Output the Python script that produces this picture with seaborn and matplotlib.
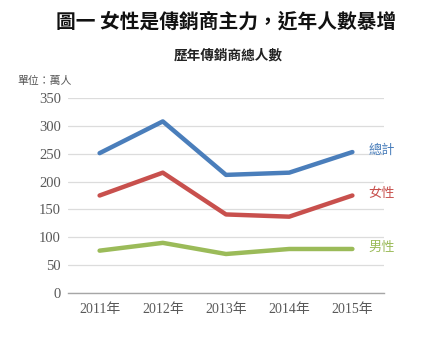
import matplotlib
matplotlib.use("Agg")
import matplotlib.pyplot as plt
import seaborn as sns
import pandas as pd

years = ["2011年", "2012年", "2013年", "2014年", "2015年"]
series_names = ["總計", "女性", "男性"]
total = [251, 308, 212, 216, 253]
female = [175, 216, 141, 137, 175]
male = [76, 90, 70, 79, 79]
colors = ["#4a7ebb", "#c8504d", "#9bbb59"]

df = pd.DataFrame({
    "year": years * 3,
    "value": total + female + male,
    "series": [s for s in series_names for _ in years],
})

sns.set_theme(style="white")
plt.rcParams["font.family"] = ["Noto Sans CJK TC", "DejaVu Sans"]

fig = plt.figure(figsize=(4.41, 3.40), dpi=100)
ax = fig.add_axes([68 / 441, 1 - 293 / 340, (384 - 68) / 441, (293 - 98) / 340])

sns.lineplot(data=df, x="year", y="value", hue="series", palette=colors,
             linewidth=3.2, legend=False, ax=ax, sort=False)
for line in ax.lines:
    line.set_solid_capstyle("round")

ax.set_xlim(-0.5, 4.5)
ax.set_ylim(0, 350)
ax.set_yticks(range(0, 351, 50))
ax.set_xlabel("")
ax.set_ylabel("")
ax.grid(axis="y", color="#dcdcdc", linewidth=0.9)
ax.set_axisbelow(True)
for side in ["top", "right", "left"]:
    ax.spines[side].set_visible(False)
ax.spines["bottom"].set_color("#a6a6a6")
ax.spines["bottom"].set_linewidth(1.0)
ax.tick_params(axis="both", length=0, colors="#595959")
ax.tick_params(axis="y", pad=5)
ax.tick_params(axis="x", pad=7)
for lab in ax.get_yticklabels():
    lab.set_fontfamily(["Liberation Serif", "DejaVu Sans"])
    lab.set_fontsize(10.5)
for lab in ax.get_xticklabels():
    lab.set_fontfamily(["Liberation Serif", "Noto Sans CJK TC"])
    lab.set_fontsize(10)

# series labels at the right end of each line
for name, vals, c in zip(series_names, [total, female, male], colors):
    ax.text(4.25, vals[-1] + 3, name, color=c, fontsize=9.5, va="center",
            ha="left", clip_on=False)

fig.text(226 / 441, 1 - 22 / 340, "圖一 女性是傳銷商主力，近年人數暴增",
         ha="center", va="center", fontsize=14.2, fontweight="bold", color="#111111")
fig.text(228 / 441, 1 - 56 / 340, "歷年傳銷商總人數",
         ha="center", va="center", fontsize=9.8, fontweight="bold", color="#222222")
fig.text(17 / 441, 1 - 81 / 340, "單位：萬人",
         ha="left", va="center", fontsize=7.8, color="#555555")

fig.savefig("out.png", dpi=100, facecolor="white")
